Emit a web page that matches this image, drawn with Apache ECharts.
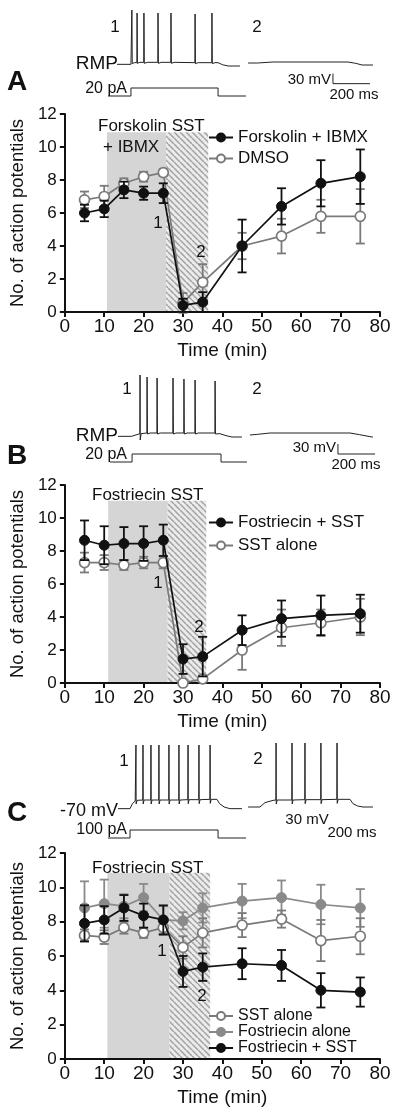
<!DOCTYPE html>
<html><head><meta charset="utf-8">
<script src="https://cdn.jsdelivr.net/npm/echarts@6.0.0/dist/echarts.min.js"></script>
<style>html,body{margin:0;padding:0;background:#fff}#c{width:400px;height:1120px}</style>
</head><body><div id="c"></div>
<script>
// ---------- data ----------
const times = [5, 10, 15, 20, 25, 30, 35, 45, 55, 65, 75];
const xTicks = [0, 10, 20, 30, 40, 50, 60, 70, 80];
const yTicks = [0, 2, 4, 6, 8, 10, 12];

// Panel A
const forskMean = [6.0, 6.25, 7.4, 7.2, 7.2, 0.4, 0.6, 4.0, 6.4, 7.8, 8.2];
const forskErr  = [0.5, 0.5, 0.5, 0.4, 0.6, 0.4, 0.6, 1.6, 1.1, 1.4, 1.65];
const dmsoMean  = [6.8, 7.0, 7.8, 8.2, 8.45, 0.55, 1.8, 4.0, 4.6, 5.8, 5.8];
const dmsoErr   = [0.5, 0.65, 0.3, 0.3, 0.2, 0.6, 1.1, 0.8, 1.05, 1.0, 1.65];
const drugSpanA = [10.7, 25.7], sstSpanA = [25.7, 36.4], shadeTopA = 10.9;

// Panel B
const fostSstMeanB = [8.65, 8.35, 8.45, 8.45, 8.65, 1.45, 1.6, 3.2, 3.9, 4.1, 4.2];
const fostSstErrB  = [1.2, 1.15, 1.0, 1.05, 0.95, 0.9, 1.2, 0.9, 1.1, 1.2, 1.15];
const sstMeanB     = [7.3, 7.3, 7.15, 7.3, 7.3, 0.0, 0.25, 2.0, 3.35, 3.65, 4.0];
const sstErrB      = [0.6, 0.45, 0.3, 0.35, 0.35, 0.0, 0.2, 1.2, 1.1, 0.8, 1.1];
const drugSpanB = [11.0, 26.1], sstSpanB = [26.1, 35.9], shadeTopB = 11.05;

// Panel C
const sstMeanC      = [7.2, 7.1, 7.65, 7.35, 7.65, 6.5, 7.35, 7.8, 8.15, 6.9, 7.15];
const sstErrC       = [0.35, 0.4, 0.35, 0.3, 0.4, 0.65, 0.85, 0.7, 0.5, 1.2, 1.05];
const fostAloneMean = [8.8, 9.05, 8.9, 9.4, 8.1, 8.05, 8.8, 9.2, 9.4, 9.0, 8.8];
const fostAloneErr  = [1.55, 1.4, 0.7, 0.8, 0.8, 0.5, 0.85, 1.0, 1.0, 1.15, 1.1];
const fostSstMeanC  = [7.9, 8.1, 8.8, 8.35, 8.1, 5.1, 5.35, 5.55, 5.45, 4.0, 3.9];
const fostSstErrC   = [1.05, 0.8, 0.75, 0.7, 0.85, 0.9, 0.8, 0.9, 0.9, 1.0, 0.85];
const drugSpanC = [10.8, 26.6], sstSpanC = [26.6, 36.9], shadeTopC = 10.85;

// Example voltage traces [ms, mV] and current steps [ms, pA]
const traceA1 = [[92,-60],[167,-60],[171,-57],[172,103],[174,-58],[185,-55],[199,-55],[200,94],[202,-57],[215,-54],[236,-54],[237,94],[239,-57],[255,-54],[312,-54],[313,94],[315,-57],[330,-54],[382,-54],[383,94],[385,-57],[400,-54],[512,-55],[513,91],[515,-58],[530,-55],[603,-55],[604,94],[606,-58],[620,-55],[637,-55],[660,-61],[691,-65],[755,-65]];
const traceA2 = [[799,-56],[850,-56],[934,-53],[1338,-53],[1380,-57],[1414,-62],[1473,-62]];
const currentA = [[43,0],[167,0],[167,20],[637,20],[637,0],[788,0]];
const scaleBarA = [[1257,-88],[1257,-118],[1457,-118]];

const traceB1 = [[97,-60],[170,-60],[180,-55],[215,-52],[216,124],[217,-71],[222,-52],[253,-50],[254,118],[256,-53],[270,-50],[307,-50],[308,115],[310,-53],[325,-50],[393,-50],[394,115],[396,-53],[410,-50],[452,-50],[453,112],[455,-53],[470,-50],[512,-50],[513,109],[515,-53],[530,-50],[620,-50],[621,106],[623,-53],[647,-52],[680,-58],[712,-62],[766,-62]];
const traceB2 = [[809,-56],[850,-54],[917,-50],[1349,-50],[1400,-55],[1468,-62],[1473,-62]];
const currentB = [[54,0],[173,0],[173,20],[653,20],[653,0],[793,0]];
const scaleBarB = [[1284,-83],[1284,-113],[1484,-113]];

const traceC1 = [[97,-70],[162,-70],[175,-55],[190,-47],[193,-45],[194,121],[195,-56],[200,-45],[231,-44],[232,121],[233,-56],[238,-44],[274,-44],[275,121],[276,-56],[281,-44],[317,-44],[318,121],[319,-56],[324,-44],[371,-44],[372,121],[373,-56],[378,-44],[425,-44],[426,121],[427,-56],[432,-44],[474,-43],[475,121],[476,-55],[481,-43],[533,-43],[534,121],[535,-55],[540,-43],[593,-42],[594,121],[595,-54],[600,-42],[631,-42],[645,-55],[670,-65],[701,-70],[766,-70]];
const traceC2 = [[799,-65],[863,-65],[890,-52],[934,-45],[949,-44],[950,127],[951,-56],[956,-44],[1035,-44],[1036,127],[1037,-56],[1042,-44],[1105,-43],[1106,127],[1107,-55],[1112,-43],[1191,-43],[1192,127],[1193,-55],[1198,-43],[1278,-42],[1279,127],[1280,-54],[1285,-42],[1349,-42],[1365,-55],[1390,-62],[1419,-65],[1473,-65]];
const currentC = [[43,0],[162,0],[162,100],[637,100],[637,0],[788,0]];

// ---------- helpers ----------
const FONT = 'Liberation Sans, Arial, sans-serif';
const INK = '#111';
const GRAY = '#7a7a7a';
const GRAY2 = '#8a8a8a';

function hatchCanvas() {
  const c = document.createElement('canvas');
  c.width = 6; c.height = 6;
  const g = c.getContext('2d');
  g.fillStyle = '#ebebeb'; g.fillRect(0, 0, 6, 6);
  g.strokeStyle = '#a2a2a2'; g.lineWidth = 1.5;
  for (const o of [-6, 0, 6]) { g.beginPath(); g.moveTo(o, 0); g.lineTo(o + 6, 6); g.stroke(); }
  return c;
}
const HATCH = hatchCanvas();

const grids = [], xAxes = [], yAxes = [], series = [], legends = [];

function mainPanel(top, height) {
  const gi = grids.length;
  grids.push({left: 61, width: 319, top: top, height: height});
  xAxes.push({type: 'value', gridIndex: gi, min: xTicks[0], max: xTicks[xTicks.length - 1], interval: xTicks[1] - xTicks[0],
    name: 'Time (min)', nameLocation: 'middle', nameGap: 29,
    nameTextStyle: {fontSize: 19, fontFamily: FONT, color: INK},
    axisLine: {lineStyle: {color: INK, width: 2}}, axisTick: {length: 5, lineStyle: {width: 2, color: INK}},
    axisLabel: {fontSize: 19, fontFamily: FONT, color: INK, margin: 5}, splitLine: {show: false}, z: 1.5});
  yAxes.push({type: 'value', gridIndex: gi, min: yTicks[0], max: yTicks[yTicks.length - 1], interval: yTicks[1] - yTicks[0],
    name: 'No. of action potentials', nameLocation: 'middle', nameGap: 26,
    nameTextStyle: {fontSize: 18.5, fontFamily: FONT, color: INK},
    axisLine: {lineStyle: {color: INK, width: 2}}, axisTick: {length: 5, lineStyle: {width: 2, color: INK}},
    axisLabel: {fontSize: 17, fontFamily: FONT, color: INK, margin: 8}, splitLine: {show: false}, z: 1.5});
  return gi;
}

function traceGrid(top, height, yMin, yMax) {
  const gi = grids.length;
  grids.push({left: 100, width: 278, top: top, height: height});
  xAxes.push({type: 'value', gridIndex: gi, min: 0, max: 1500, show: false});
  yAxes.push({type: 'value', gridIndex: gi, min: yMin, max: yMax, show: false});
  return gi;
}

function traceSeries(gi, data, width) {
  series.push({type: 'line', xAxisIndex: gi, yAxisIndex: gi, data: data, showSymbol: false, symbol: 'none',
    clip: false, silent: true, lineStyle: {color: '#222', width: width || 1}, z: 2});
}

function errSeries(gi, means, errs, color, z) {
  series.push({type: 'custom', xAxisIndex: gi, yAxisIndex: gi, silent: true, z: z,
    data: times.map((t, i) => [t, means[i] - errs[i], means[i] + errs[i]]),
    renderItem: function (params, api) {
      const lo = api.coord([api.value(0), api.value(1)]);
      const hi = api.coord([api.value(0), api.value(2)]);
      const st = {stroke: color, lineWidth: 1.8};
      return {type: 'group', children: [
        {type: 'line', shape: {x1: lo[0], y1: lo[1], x2: hi[0], y2: hi[1]}, style: st},
        {type: 'line', shape: {x1: lo[0] - 4.5, y1: lo[1], x2: lo[0] + 4.5, y2: lo[1]}, style: st},
        {type: 'line', shape: {x1: hi[0] - 4.5, y1: hi[1], x2: hi[0] + 4.5, y2: hi[1]}, style: st}
      ]};
    }});
}

function lineSeries(gi, name, means, kind, z, shade) {
  let item, lineColor;
  if (kind === 'black') { item = {color: INK, borderColor: INK, borderWidth: 1}; lineColor = INK; }
  else if (kind === 'open') { item = {color: '#fff', borderColor: GRAY, borderWidth: 1.7}; lineColor = GRAY; }
  else { item = {color: GRAY2, borderColor: GRAY2, borderWidth: 1}; lineColor = GRAY2; }
  const s = {type: 'line', name: name, xAxisIndex: gi, yAxisIndex: gi, data: times.map((t, i) => [t, means[i]]),
    symbol: 'circle', symbolSize: 10, showSymbol: true, itemStyle: item, lineStyle: {color: lineColor, width: 1.7},
    z: z, emphasis: {disabled: true}};
  if (shade) {
    s.markArea = {silent: true, z: 1, data: [
      [{coord: [shade.drug[0], 0], itemStyle: {color: '#d5d5d5'}}, {coord: [shade.drug[1], shade.top]}],
      [{coord: [shade.sst[0], 0], itemStyle: {color: {image: HATCH, repeat: 'repeat'}}}, {coord: [shade.sst[1], shade.top]}]
    ]};
  }
  series.push(s);
}

function legend(top, names, gap, fs) {
  legends.push({top: top, left: 208, orient: 'vertical', data: names, itemWidth: 24, itemHeight: 10, itemGap: gap,
    padding: 0, selectedMode: false, textStyle: {fontSize: fs, fontFamily: FONT, color: INK}});
}

// ---------- Panel A ----------
const gA = mainPanel(114, 198);
lineSeries(gA, 'DMSO', dmsoMean, 'open', 3, {drug: drugSpanA, sst: sstSpanA, top: shadeTopA});
errSeries(gA, dmsoMean, dmsoErr, GRAY, 2);
errSeries(gA, forskMean, forskErr, INK, 4);
lineSeries(gA, 'Forskolin + IBMX', forskMean, 'black', 5);
legend(129, ['Forskolin + IBMX', 'DMSO'], 4, 17);
const tAv = traceGrid(1, 100, -170, 130);
traceSeries(tAv, traceA1); traceSeries(tAv, traceA2); traceSeries(tAv, scaleBarA);
const tAc = traceGrid(86, 12, -5, 25);
traceSeries(tAc, currentA);

// ---------- Panel B ----------
const gB = mainPanel(485, 198);
lineSeries(gB, 'SST alone', sstMeanB, 'open', 3, {drug: drugSpanB, sst: sstSpanB, top: shadeTopB});
errSeries(gB, sstMeanB, sstErrB, GRAY, 2);
errSeries(gB, fostSstMeanB, fostSstErrB, INK, 4);
lineSeries(gB, 'Fostriecin + SST', fostSstMeanB, 'black', 5);
legend(514, ['Fostriecin + SST', 'SST alone'], 6, 17);
const tBv = traceGrid(373, 100, -170, 130);
traceSeries(tBv, traceB1); traceSeries(tBv, traceB2); traceSeries(tBv, scaleBarB);
const tBc = traceGrid(452, 12, -5, 25);
traceSeries(tBc, currentB);

// ---------- Panel C ----------
const gC = mainPanel(853, 206);
lineSeries(gC, 'Fostriecin alone', fostAloneMean, 'gray', 3, {drug: drugSpanC, sst: sstSpanC, top: shadeTopC});
errSeries(gC, fostAloneMean, fostAloneErr, GRAY2, 2);
errSeries(gC, sstMeanC, sstErrC, GRAY, 2.5);
lineSeries(gC, 'SST alone', sstMeanC, 'open', 3.5);
errSeries(gC, fostSstMeanC, fostSstErrC, INK, 4);
lineSeries(gC, 'Fostriecin + SST', fostSstMeanC, 'black', 5);
legend(1008, ['SST alone', 'Fostriecin alone', 'Fostriecin + SST'], 0, 16);
const tCv = traceGrid(742, 100, -170, 130);
traceSeries(tCv, traceC1); traceSeries(tCv, traceC2);
const tCc = traceGrid(828, 12, -25, 125);
traceSeries(tCc, currentC);

// ---------- text annotations ----------
function txt(x, y, text, size, align, weight) {
  return {type: 'text', x: x, y: y, z: 20, silent: true,
    style: {text: text, fontSize: size, fontFamily: FONT, fontWeight: weight || 'normal', fill: INK,
      align: align || 'center', verticalAlign: 'middle'}};
}
const labels = [
  txt(115, 27, '1', 17), txt(257, 27, '2', 17),
  txt(118, 64, 'RMP', 19, 'right'), txt(7, 82, 'A', 28, 'left', 'bold'),
  txt(127, 89, '20 pA', 16, 'right'), txt(331, 80, '30 mV', 15, 'right'), txt(354, 95, '200 ms', 15),
  txt(98, 126, 'Forskolin SST', 17, 'left'), txt(103, 147, '+ IBMX', 17, 'left'),
  txt(158, 223, '1', 17), txt(201, 252, '2', 17),

  txt(127, 389, '1', 17), txt(257, 389, '2', 17),
  txt(118, 436, 'RMP', 19, 'right'), txt(7, 456, 'B', 28, 'left', 'bold'),
  txt(127, 455, '20 pA', 16, 'right'), txt(336, 448, '30 mV', 15, 'right'), txt(356, 465, '200 ms', 15),
  txt(92, 495, 'Fostriecin SST', 17, 'left'),
  txt(158, 583, '1', 17), txt(199, 627, '2', 17),

  txt(124, 761, '1', 17), txt(258, 759, '2', 17),
  txt(118, 811, '-70 mV', 18, 'right'), txt(7, 813, 'C', 28, 'left', 'bold'),
  txt(127, 830, '100 pA', 16, 'right'), txt(307, 820, '30 mV', 15), txt(352, 833, '200 ms', 15),
  txt(92, 868, 'Fostriecin SST', 17, 'left'),
  txt(162, 951, '1', 17), txt(202, 996, '2', 17)
];

const chart = echarts.init(document.getElementById('c'), null, {renderer: 'canvas'});
chart.setOption({
  animation: false,
  backgroundColor: '#fff',
  grid: grids, xAxis: xAxes, yAxis: yAxes, series: series, legend: legends,
  graphic: labels
});
</script></body></html>
